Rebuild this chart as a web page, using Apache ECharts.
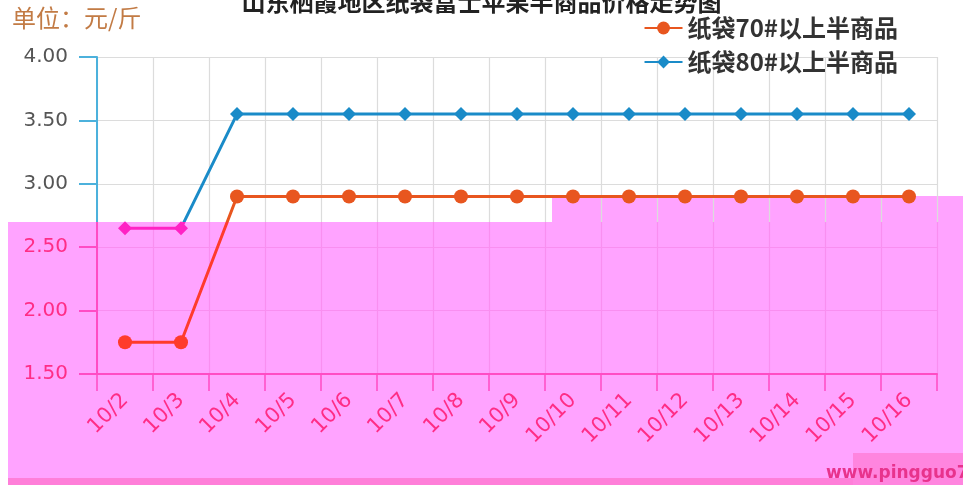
<!DOCTYPE html>
<html><head><meta charset="utf-8">
<script src="https://cdn.jsdelivr.net/npm/echarts@6/dist/echarts.min.js"></script>
<style>html,body{margin:0;padding:0;background:#fff}#c{width:963px;height:485px}</style>
</head><body><div id="c"></div>
<script>
// ---- data ----
const categories = ['10/2','10/3','10/4','10/5','10/6','10/7','10/8','10/9','10/10','10/11','10/12','10/13','10/14','10/15','10/16'];
const bag70 = [1.75,1.75,2.90,2.90,2.90,2.90,2.90,2.90,2.90,2.90,2.90,2.90,2.90,2.90,2.90];
const bag80 = [2.65,2.65,3.55,3.55,3.55,3.55,3.55,3.55,3.55,3.55,3.55,3.55,3.55,3.55,3.55];
const seriesNames = ['纸袋70#以上半商品','纸袋80#以上半商品'];
const titleText = '山东栖霞地区纸袋富士苹果半商品价格走势图';
const unitText = '单位：元/斤';
const watermarkText = 'www.pingguo7.';

// ---- styling ----
const H = 485, BOUND = 222;
const PINK_BG = '#ffa3ff', PINK_TEXT = '#ff2d86', PINK_LINE = '#ff4cc4', PINK_GRID = '#f98ff0';
const ORANGE = '#e8561f', BLUE = '#1a8bc8', RED = '#ff3b2c', MAGENTA = '#ff22c4';
function vgrad(top, bottom) {
  const b = BOUND / H;
  return { type: 'linear', x: 0, y: 0, x2: 0, y2: H, global: true,
    colorStops: [{offset: 0, color: top}, {offset: b, color: top}, {offset: b, color: bottom}, {offset: 1, color: bottom}] };
}
function items(vals, normal, low) {
  return vals.map((v) => ({ value: v, itemStyle: { color: v < 2.7 ? low : normal } }));
}

const chart = echarts.init(document.getElementById('c'), null, {renderer: 'canvas'});
chart.setOption({
  backgroundColor: '#fff',
  animation: false,
  title: { text: titleText, left: 'center', top: -15,
    textStyle: { fontSize: 24, fontWeight: 'bold', color: '#222', fontFamily: 'Noto Sans CJK SC' } },
  legend: {
    orient: 'vertical', right: 60, top: 11, itemWidth: 38, itemHeight: 16, itemGap: 10,
    textStyle: { fontSize: 24, fontWeight: 'bold', color: '#333', fontFamily: 'Noto Sans CJK SC' },
    data: seriesNames
  },
  grid: { left: 97, right: 26, top: 57, bottom: 111, containLabel: false },
  xAxis: {
    type: 'category', data: categories, boundaryGap: true,
    axisLine: { show: true, lineStyle: { color: PINK_LINE, width: 2 } },
    axisTick: { show: true, length: 17, lineStyle: { color: PINK_LINE, width: 1.5 } },
    axisLabel: { rotate: 45, margin: 23, fontSize: 21, color: PINK_TEXT, fontFamily: 'DejaVu Sans', interval: 0 },
    splitLine: { show: true, lineStyle: { color: vgrad('#dcdcdc', PINK_GRID), width: 1.2 } }
  },
  yAxis: {
    type: 'value', min: 1.5, max: 4, interval: 0.5,
    axisLine: { show: true, lineStyle: { color: vgrad('#4cb1dc', PINK_LINE), width: 2 } },
    axisTick: { show: true, length: 18, lineStyle: { color: vgrad('#4cb1dc', PINK_LINE), width: 2 } },
    axisLabel: { margin: 29, fontSize: 20, fontFamily: 'DejaVu Sans',
      formatter: (v) => Number(v).toFixed(2),
      color: (v) => (parseFloat(v) <= 2.5 ? PINK_TEXT : '#555') },
    splitLine: { show: true, lineStyle: { color: [PINK_GRID, PINK_GRID, PINK_GRID, '#dcdcdc', '#dcdcdc', '#dcdcdc'], width: 1.2 } }
  },
  series: [
    { name: seriesNames[0], type: 'line', data: items(bag70, ORANGE, RED), symbol: 'circle', symbolSize: 14,
      itemStyle: { color: ORANGE }, lineStyle: { width: 3, color: vgrad(ORANGE, RED) }, z: 3 },
    { name: seriesNames[1], type: 'line', data: items(bag80, BLUE, MAGENTA), symbol: 'diamond', symbolSize: 14,
      itemStyle: { color: BLUE }, lineStyle: { width: 3, color: vgrad(BLUE, MAGENTA) }, z: 4 }
  ],
  graphic: [
    { type: 'rect', z: -10, silent: true, shape: { x: 8, y: BOUND, width: 955, height: H - BOUND }, style: { fill: PINK_BG } },
    { type: 'rect', z: -10, silent: true, shape: { x: 552, y: 196, width: 411, height: BOUND - 196 }, style: { fill: PINK_BG } },
    { type: 'rect', z: 50, silent: true, shape: { x: 8, y: 478, width: 955, height: 7 }, style: { fill: '#ff7fd9' } },
    { type: 'rect', z: 50, silent: true, shape: { x: 853, y: 453, width: 110, height: 32 }, style: { fill: '#ff85df' } },
    { type: 'text', z: 51, silent: true, x: 826, y: 465,
      style: { text: watermarkText, fill: '#e8338c', font: 'bold 17px "DejaVu Sans"' } },
    { type: 'text', z: 51, silent: true, x: 12, y: 6,
      style: { text: unitText, fill: '#c27b45', font: '24px "Noto Sans CJK SC"' } }
  ]
});
</script></body></html>
